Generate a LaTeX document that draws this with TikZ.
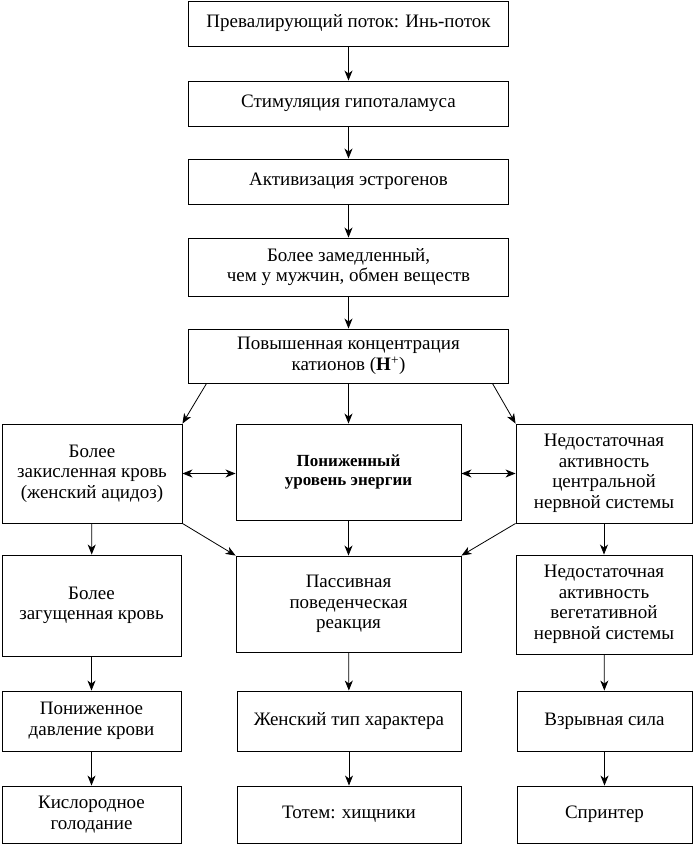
\documentclass[tikz,border=0pt]{standalone}
\usepackage{fontspec}
\setmainfont{Liberation Serif}
\usetikzlibrary{arrows.meta}
\begin{document}
\begin{tikzpicture}[x=1pt,y=1pt,
  box/.style={draw,line width=0.9pt,inner sep=0pt,align=center,font=\fontsize{19}{20.5}\selectfont},
  arr/.style={line width=0.8pt,-{Stealth[length=10pt,width=8pt,inset=3pt]}},
  darr/.style={line width=0.8pt,{Stealth[length=10pt,width=8pt,inset=3pt]}-{Stealth[length=10pt,width=8pt,inset=3pt]}}]
\useasboundingbox (0,0) rectangle (693,-845);
% centre column
\node[box,minimum width=320pt,minimum height=45pt] (b1) at (348.5,-23.5) {Превалирующий поток: Инь-поток};
\node[box,minimum width=320pt,minimum height=45pt] (b2) at (348.5,-103.5) {Стимуляция гипоталамуса};
\node[box,minimum width=320pt,minimum height=45pt] (b3) at (348.5,-181.5) {Активизация эстрогенов};
\node[box,minimum width=320pt,minimum height=58pt] (b4) at (348.5,-267) {Более замедленный,\\чем у мужчин, обмен веществ};
\node[box,minimum width=320pt,minimum height=54pt] (b5) at (348.5,-356) {Повышенная концентрация\\катионов (\textbf{H}\textsuperscript{+})};
% row 2
\node[box,minimum width=180pt,minimum height=99pt] (L2) at (92,-473.5) {Более\\закисленная кровь\\(женский ацидоз)};
\node[box,minimum width=225pt,minimum height=96pt,font=\fontsize{17}{18.5}\selectfont\bfseries] (M2) at (348.5,-472) {Пониженный\\уровень энергии};
\node[box,minimum width=176pt,minimum height=99pt] (R2) at (604,-473.5) {Недостаточная\\активность\\центральной\\нервной системы};
% row 3
\node[box,minimum width=179pt,minimum height=101pt] (L3) at (91.5,-605.5) {Более\\загущенная кровь};
\node[box,minimum width=225pt,minimum height=96pt] (M3) at (348.5,-604) {Пассивная\\поведенческая\\реакция};
\node[box,minimum width=176pt,minimum height=99pt] (R3) at (604,-604.5) {Недостаточная\\активность\\вегетативной\\нервной системы};
% row 4
\node[box,minimum width=179pt,minimum height=60pt] (L4) at (91.5,-721) {Пониженное\\давление крови};
\node[box,minimum width=224pt,minimum height=60pt] (M4) at (349,-721) {Женский тип характера};
\node[box,minimum width=175pt,minimum height=60pt] (R4) at (604.5,-721) {Взрывная сила};
% row 5
\node[box,minimum width=179pt,minimum height=57pt] (L5) at (91.5,-814.5) {Кислородное\\голодание};
\node[box,minimum width=224pt,minimum height=57pt] (M5) at (349,-814.5) {Тотем: хищники};
\node[box,minimum width=175pt,minimum height=57pt] (R5) at (604.5,-814.5) {Спринтер};
% arrows centre
\draw[arr] (b1) -- (b2);
\draw[arr] (b2) -- (b3);
\draw[arr] (b3) -- (b4);
\draw[arr] (b4) -- (b5);
\draw[arr] (b5) -- (M2);
\draw[arr] ([xshift=18.5pt]b5.south west) -- (L2.north east);
\draw[arr] ([xshift=-16.5pt]b5.south east) -- (R2.north west);
\draw[darr] (L2.east) -- (L2.east -| M2.west);
\draw[darr] (R2.west -| M2.east) -- (R2.west);
% row 2 -> row 3
\draw[arr] (L2) -- (L3);
\draw[arr] (M2) -- (M3);
\draw[arr] (R2) -- (R3);
\draw[arr] (L2.south east) -- (M3.north west);
\draw[arr] (R2.south west) -- (M3.north east);
% row 3 -> row 4 -> row 5
\draw[arr] (L3) -- (L4);
\draw[arr] (M3) -- (M4);
\draw[arr] (R3) -- (R4);
\draw[arr] (L4) -- (L5);
\draw[arr] (M4) -- (M5);
\draw[arr] (R4) -- (R5);
\end{tikzpicture}
\end{document}
